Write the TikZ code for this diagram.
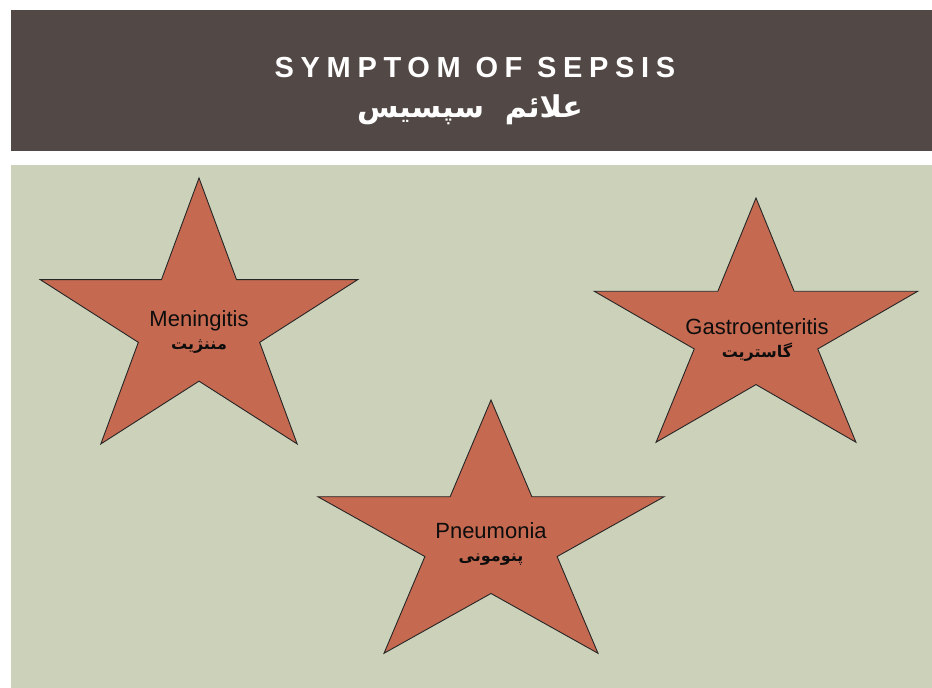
\documentclass[tikz,border=0pt]{standalone}
\usepackage{fontspec}
\setmainfont{Liberation Sans}
\newfontfamily\arabicfont[Script=Arabic]{DejaVu Sans}
\TeXXeTstate=1
\definecolor{titlebar}{RGB}{82,72,69}
\definecolor{bggreen}{RGB}{204,209,186}
\definecolor{starfill}{RGB}{197,105,80}
\tikzset{
  starshape/.style={draw=black!85, fill=starfill, line width=0.9pt, line join=miter},
  englabel/.style={font=\fontsize{22}{24}\selectfont, text=black!95, inner sep=0pt},
  farlabel/.style={font=\arabicfont\bfseries\fontsize{16}{18}\selectfont, text=black!95, inner sep=0pt},
}
\newcommand\drawmystar[4]{%
  \draw[starshape] ({#1},{#2-#4})
    \foreach \k [evaluate=\k as \r using {ifthenelse(mod(\k,2)==0,1,0.382)},
                 evaluate=\k as \a using {90+36*\k}] in {1,...,9}
      { -- ({#1+#3*\r*cos(\a)},{#2-#4*\r*sin(\a)}) } -- cycle;}
\begin{document}
\begin{tikzpicture}[x=1pt,y=-1pt]
\useasboundingbox (0,0) rectangle (932,688);
\fill[white] (0,0) rectangle (932,688);
\fill[titlebar] (11,10) rectangle (932,151);
\fill[bggreen] (11,165) rectangle (932,688);
\node[text=white, inner sep=0pt, anchor=base] (title) at (475,77)
  {\fontsize{29}{32}\selectfont\bfseries\addfontfeatures{LetterSpace=23}SYMPTOM\ OF SEPSIS};
\node[text=white, inner sep=0pt, anchor=base] (titlefa) at (470,117)
  {\arabicfont\bfseries\fontsize{30}{34}\selectfont\beginR علائم\ \ سپسیس\endR};
\drawmystar{199}{325}{167}{147}
\drawmystar{756}{333}{170}{135}
\drawmystar{491}{540}{182}{140}
\node[englabel, anchor=base] (men) at (199,326) {Meningitis};
\node[farlabel, anchor=base] (menfa) at (199,349) {\beginR مننژیت\endR};
\node[englabel, anchor=base] (gas) at (757,334) {Gastroenteritis};
\node[farlabel, anchor=base] (gasfa) at (757,357) {\beginR گاستریت\endR};
\node[englabel, anchor=base] (pne) at (491,538) {Pneumonia};
\node[farlabel, anchor=base] (pnefa) at (491,561) {\beginR پنومونی\endR};
\end{tikzpicture}
\end{document}
